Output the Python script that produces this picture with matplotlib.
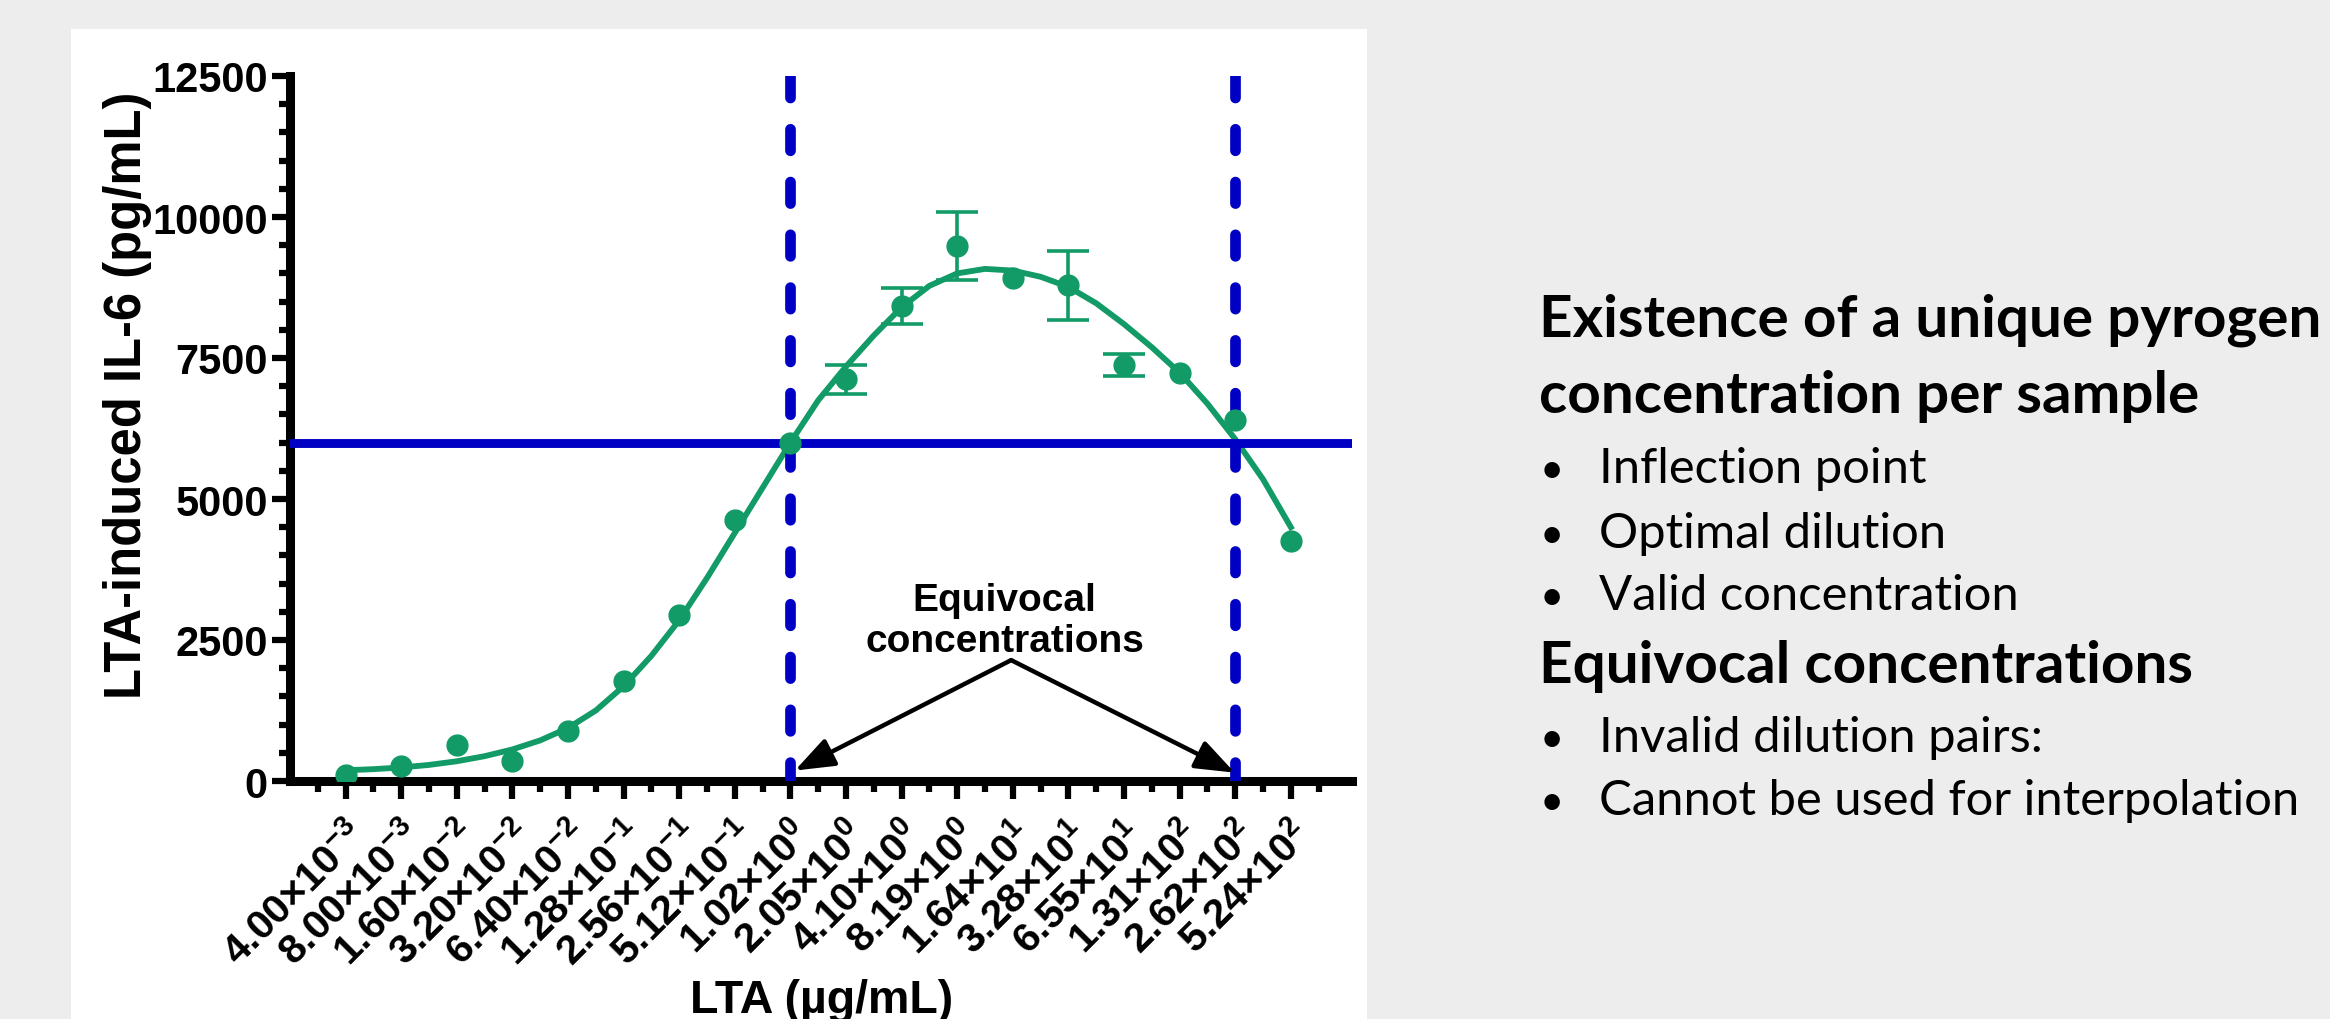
import numpy as np
import matplotlib
matplotlib.use('Agg')
import matplotlib.pyplot as plt
from matplotlib.patches import Rectangle
from matplotlib.ticker import MultipleLocator, FixedLocator
from matplotlib.transforms import ScaledTranslation

# LTA dilution series (ug/mL), shown as evenly spaced categories
mantissas = ['4.00', '8.00', '1.60', '3.20', '6.40', '1.28', '2.56', '5.12', '1.02',
             '2.05', '4.10', '8.19', '1.64', '3.28', '6.55', '1.31', '2.62', '5.24']
exponents = [-3, -3, -2, -2, -2, -1, -1, -1, 0, 0, 0, 0, 1, 1, 1, 2, 2, 2]

# measured IL-6 (pg/mL) and error bars (0 = no visible bar)
il6 = [105, 265, 630, 350, 880, 1780, 2940, 4630, 6000,
       7120, 8420, 9490, 8920, 8790, 7370, 7240, 6400, 4250]
il6_err = [0, 0, 0, 0, 0, 0, 0, 0, 0,
           260, 315, 600, 0, 615, 195, 0, 0, 0]

# fitted curve (x in category units)
curve_x = [0, 0.5, 1, 1.5, 2, 2.5, 3, 3.5, 4, 4.5, 5, 5.5, 6, 6.5, 7, 7.5, 8, 8.5,
           9, 9.5, 10, 10.5, 11, 11.5, 12, 12.5, 13, 13.5, 14, 14.5, 15, 15.5, 16, 16.5, 17]
curve_y = [190, 210, 240, 285, 350, 440, 560, 720, 940, 1250, 1680, 2220, 2850, 3600,
           4400, 5200, 6000, 6750, 7350, 7900, 8400, 8780, 9000, 9080, 9050, 8940,
           8760, 8470, 8100, 7690, 7240, 6690, 6060, 5350, 4500]

threshold = 6000
equivocal_idx = [8, 16]

heading_1 = ['Existence of a unique pyrogen', 'concentration per sample']
bullets_1 = ['Inflection point', 'Optimal dilution', 'Valid concentration']
heading_2 = ['Equivocal concentrations']
bullets_2 = ['Invalid dilution pairs:', 'Cannot be used for interpolation']

plt.rcParams['font.family'] = ['Liberation Sans', 'DejaVu Sans']
plt.rcParams['mathtext.fontset'] = 'custom'
plt.rcParams['mathtext.rm'] = 'Liberation Sans:bold'
plt.rcParams['mathtext.it'] = 'Liberation Sans:bold'
plt.rcParams['mathtext.bf'] = 'Liberation Sans:bold'
plt.rcParams['mathtext.default'] = 'regular'
plt.rcParams['lines.scale_dashes'] = False

GREEN = '#129B67'
BLUE = '#0000C4'
W, H = 2330, 1020

fig = plt.figure(figsize=(W / 100, H / 100), dpi=100, facecolor='#EDEDED')
fig.add_artist(Rectangle((71 / W, 0), (1367 - 71) / W, 990 / H, transform=fig.transFigure,
                         facecolor='white', edgecolor='none', zorder=-1))

ax = fig.add_axes([290 / W, 1 - 782 / H, (1352 - 290) / W, (782 - 77) / H])
ax.set_facecolor('none')

x = np.arange(len(il6))
il6 = np.array(il6)
il6_err = np.array(il6_err)

ax.axhline(threshold, color=BLUE, lw=6.4, zorder=3)
for xi in equivocal_idx:
    ax.plot([xi, xi], [12500, 0], color=BLUE, lw=7.7, dashes=(15.5, 22.5),
            dash_capstyle='round', zorder=3)

ax.plot(curve_x, curve_y, color=GREEN, lw=4.2, zorder=2, solid_joinstyle='round')
ax.plot(x, il6, 'o', color=GREEN, ms=15, zorder=4)
sel = il6_err > 0
ax.errorbar(x[sel], il6[sel], yerr=il6_err[sel], fmt='none', ecolor=GREEN,
            elinewidth=2.6, capsize=15, capthick=2.6, zorder=4)

# va='baseline' on a two-line text pins the last line
ax.text(11.85, 2313, 'Equivocal\nconcentrations', ha='center', va='baseline',
        fontsize=28, fontweight='bold', linespacing=1.15)
for tip in [(8.08, 185), (15.99, 148)]:
    ax.annotate('', xy=tip, xytext=(11.97, 2143),
                arrowprops=dict(arrowstyle='-|>,head_length=1.2,head_width=0.45',
                                mutation_scale=20, lw=3.2, color='black',
                                shrinkA=0, shrinkB=0), zorder=5)

ax.set_xlim(-1, 18.1)
ax.set_ylim(0, 12500)
for s in ['top', 'right']:
    ax.spines[s].set_visible(False)
for s in ['left', 'bottom']:
    ax.spines[s].set_linewidth(6.5)
    ax.spines[s].set_capstyle('projecting')

ax.set_yticks(np.arange(0, 12501, 2500))
ax.yaxis.set_minor_locator(MultipleLocator(500))
ax.set_xticks(x)
ax.xaxis.set_minor_locator(FixedLocator(np.arange(-0.5, 18, 1.0)))
labels = [r'$%s{\times}10^{%d}$' % (m, e) for m, e in zip(mantissas, exponents)]
ax.set_xticklabels(labels, rotation=45, ha='right', va='top', rotation_mode='anchor',
                   fontweight='bold')
shift = ScaledTranslation(-9 / 100, 0, fig.dpi_scale_trans)
for lab in ax.get_xticklabels():
    lab.set_transform(lab.get_transform() + shift)
for lab in ax.get_yticklabels():
    lab.set_fontweight('bold')

ax.tick_params(which='major', length=13, width=4.5, direction='out', color='black')
ax.tick_params(which='minor', length=8, width=4.5, direction='out', color='black')
ax.tick_params(axis='y', labelsize=30, pad=3)
ax.tick_params(axis='x', labelsize=29.5, pad=11)

ax.set_ylabel('LTA-induced IL-6 (pg/mL)', fontsize=36.5, fontweight='bold')
ax.yaxis.set_label_coords(-0.13, 0.549)
fig.text(822 / W, (H - 1013) / H, 'LTA (µg/mL)', ha='center', va='baseline',
         fontsize=33.5, fontweight='bold')

# size the side panel text so the longest lines match the picture widths
renderer = fig.canvas.get_renderer()
probe = fig.text(0, 0, heading_2[0], family='Lato', weight='bold', size=40)
head_size = 40 * 653 / probe.get_window_extent(renderer).width
probe.remove()
probe = fig.text(0, 0, bullets_2[1], family='Lato', size=40)
body_size = 40 * 701 / probe.get_window_extent(renderer).width
probe.remove()

def head(txt, ypx):
    fig.text(1539 / W, 1 - ypx / H, txt, family='Lato', weight='bold', size=head_size,
             va='baseline', ha='left')

def bullet(txt, ypx):
    fig.text(1540 / W, 1 - ypx / H, '•', family='Lato', size=body_size * 0.85, va='baseline')
    fig.text(1599 / W, 1 - ypx / H, txt, family='Lato', size=body_size, va='baseline')

for txt, y in zip(heading_1, [337, 413]):
    head(txt, y)
for txt, y in zip(bullets_1, [483, 548, 610]):
    bullet(txt, y)
for txt, y in zip(heading_2, [683]):
    head(txt, y)
for txt, y in zip(bullets_2, [752, 815]):
    bullet(txt, y)

fig.savefig('out.png', dpi=100, facecolor=fig.get_facecolor())
